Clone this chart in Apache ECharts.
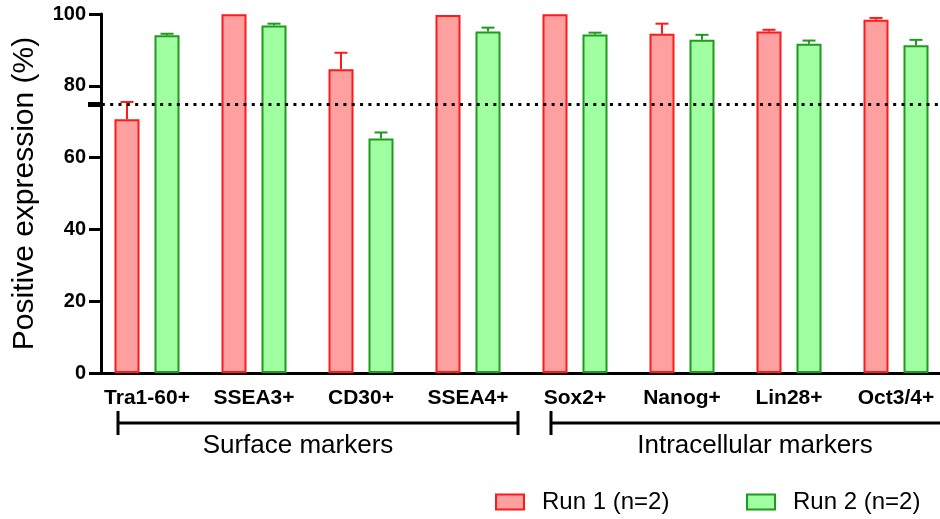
<!DOCTYPE html>
<html>
<head>
<meta charset="utf-8">
<style>
  html, body { margin: 0; padding: 0; background: #fff; overflow: hidden; }
  #chart { width: 950px; height: 519px; }
</style>
<script src="https://cdn.jsdelivr.net/npm/echarts@6/dist/echarts.min.js"></script>
</head>
<body>
<div id="chart"></div>
<script>
// Marker panel: percentage of positive cells per marker, two runs
const categories = ['Tra1-60+', 'SSEA3+', 'CD30+', 'SSEA4+', 'Sox2+', 'Nanog+', 'Lin28+', 'Oct3/4+'];
const run1Mean = [70.7, 99.9, 84.6, 99.7, 99.9, 94.5, 95.1, 98.4];
const run1Err  = [4.8, 0, 4.6, 0, 0, 2.8, 0.5, 0.5];
const run2Mean = [94.1, 96.8, 65.3, 95.1, 94.3, 92.8, 91.7, 91.3];
const run2Err  = [0.4, 0.5, 1.7, 1.1, 0.5, 1.4, 0.9, 1.5];
const seriesNames = ['Run 1 (n=2)', 'Run 2 (n=2)'];
const thresholdValue = 75;
const groupNames = ['Surface markers', 'Intracellular markers'];
const groupFirst = [0, 4];
const groupLast = [3, 7];

const FONT = "'Liberation Sans', Arial, Helvetica, sans-serif";
const RED_FILL = '#FFA0A0', RED_LINE = '#FF1A1A';
const GREEN_FILL = '#A0FFA0', GREEN_LINE = '#1E9A1E';
const BAR_HALF_SPACING = 20; // px between category centre and each bar centre

// bracket layout: [left pad, right pad, label shift] in px
const groupLayout = [[29, 50, -9.5], [24, 50, 19.5]];

function errorBarRenderer(side, color) {
  return function (params, api) {
    const err = api.value(2);
    if (!err) return null;
    const cat = api.value(0);
    const mean = api.value(1);
    const base = api.coord([cat, mean]);
    const top = api.coord([cat, mean + err]);
    const x = base[0] + side * BAR_HALF_SPACING;
    const half = 6.5;
    return {
      type: 'group',
      children: [
        { type: 'line', shape: { x1: x, y1: base[1], x2: x, y2: top[1] },
          style: { stroke: color, lineWidth: 2 } },
        { type: 'line', shape: { x1: x - half, y1: top[1], x2: x + half, y2: top[1] },
          style: { stroke: color, lineWidth: 2 } }
      ]
    };
  };
}

function groupRenderer(params, api) {
  const idx = params.dataIndex;
  const first = api.coord([api.value(0), 0]);
  const last = api.coord([api.value(1), 0]);
  const pad = groupLayout[idx];
  const y = first[1] + 50;
  const x1 = first[0] - pad[0];
  const x2 = last[0] + pad[1];
  const lineStyle = { stroke: '#000', lineWidth: 3 };
  return {
    type: 'group',
    children: [
      { type: 'line', shape: { x1: x1, y1: y, x2: x2, y2: y }, style: lineStyle },
      { type: 'line', shape: { x1: x1, y1: y - 12, x2: x1, y2: y + 12 }, style: lineStyle },
      { type: 'line', shape: { x1: x2, y1: y - 12, x2: x2, y2: y + 12 }, style: lineStyle },
      { type: 'text', x: (first[0] + last[0]) / 2 + pad[2], y: y + 23,
        style: { text: groupNames[idx], fill: '#000', font: '26px ' + FONT,
                 align: 'center', verticalAlign: 'middle' } }
    ]
  };
}

const chart = echarts.init(document.getElementById('chart'), null, { renderer: 'canvas' });

chart.setOption({
  animation: false,
  backgroundColor: '#fff',
  textStyle: { fontFamily: FONT },
  grid: { left: 93.5, top: 14, width: 856, height: 359, containLabel: false },
  legend: [
    { data: [{ name: seriesNames[0], icon: 'rect' }], left: 495, top: 490, padding: 0,
      itemWidth: 28, itemHeight: 15,
      textStyle: { fontSize: 24, color: '#000', fontFamily: FONT, padding: [0, 0, 0, 13] } },
    { data: [{ name: seriesNames[1], icon: 'rect' }], left: 746, top: 490, padding: 0,
      itemWidth: 28, itemHeight: 15,
      textStyle: { fontSize: 24, color: '#000', fontFamily: FONT, padding: [0, 0, 0, 13] } }
  ],
  xAxis: {
    type: 'category',
    data: categories,
    boundaryGap: true,
    axisLine: { lineStyle: { color: '#000', width: 3 } },
    axisTick: { alignWithLabel: true, length: 11, lineStyle: { color: '#000', width: 3 } },
    axisLabel: { color: '#000', fontSize: 21, fontWeight: 'bold', fontFamily: FONT, margin: 15, interval: 0 },
    splitLine: { show: false }
  },
  yAxis: [
    {
      type: 'value', min: 0, max: 100, interval: 20, offset: -7.5,
      name: 'Positive expression (%)', nameLocation: 'middle', nameGap: 61,
      nameTextStyle: { fontSize: 30, color: '#000', fontFamily: FONT },
      axisLine: { show: true, lineStyle: { color: '#000', width: 3 } },
      axisTick: { show: true, length: 12, lineStyle: { color: '#000', width: 3 } },
      axisLabel: { color: '#000', fontSize: 20, fontWeight: 'bold', fontFamily: FONT, margin: 15 },
      splitLine: { show: false }
    },
    {
      type: 'value', min: 0, max: 100, interval: 20, offset: -7.5, position: 'left',
      axisLine: { show: false },
      axisTick: { show: true, length: 13, customValues: [thresholdValue],
                  lineStyle: { color: '#000', width: 5 } },
      axisLabel: { show: false },
      splitLine: { show: false }
    }
  ],
  series: [
    {
      name: seriesNames[0], type: 'bar', data: run1Mean, barWidth: 25, barGap: '60%', z: 3,
      itemStyle: { color: RED_FILL, borderColor: RED_LINE, borderWidth: 2 }
    },
    {
      name: seriesNames[1], type: 'bar', data: run2Mean, barWidth: 25, barGap: '60%', z: 3,
      itemStyle: { color: GREEN_FILL, borderColor: GREEN_LINE, borderWidth: 2 }
    },
    {
      type: 'custom', z: 4, silent: true,
      data: run1Mean.map((m, i) => [i, m, run1Err[i]]),
      renderItem: errorBarRenderer(-1, RED_LINE)
    },
    {
      type: 'custom', z: 4, silent: true,
      data: run2Mean.map((m, i) => [i, m, run2Err[i]]),
      renderItem: errorBarRenderer(1, GREEN_LINE)
    },
    {
      type: 'line', data: [], z: 1, silent: true, symbol: 'none',
      markLine: {
        silent: true, symbol: ['none', 'none'], label: { show: false },
        lineStyle: { color: '#000', width: 3, type: [3, 5.33] },
        data: [{ yAxis: thresholdValue }]
      }
    },
    {
      type: 'custom', clip: false, silent: true, z: 5,
      data: groupFirst.map((f, i) => [f, groupLast[i]]),
      renderItem: groupRenderer
    }
  ]
});
</script>
</body>
</html>
